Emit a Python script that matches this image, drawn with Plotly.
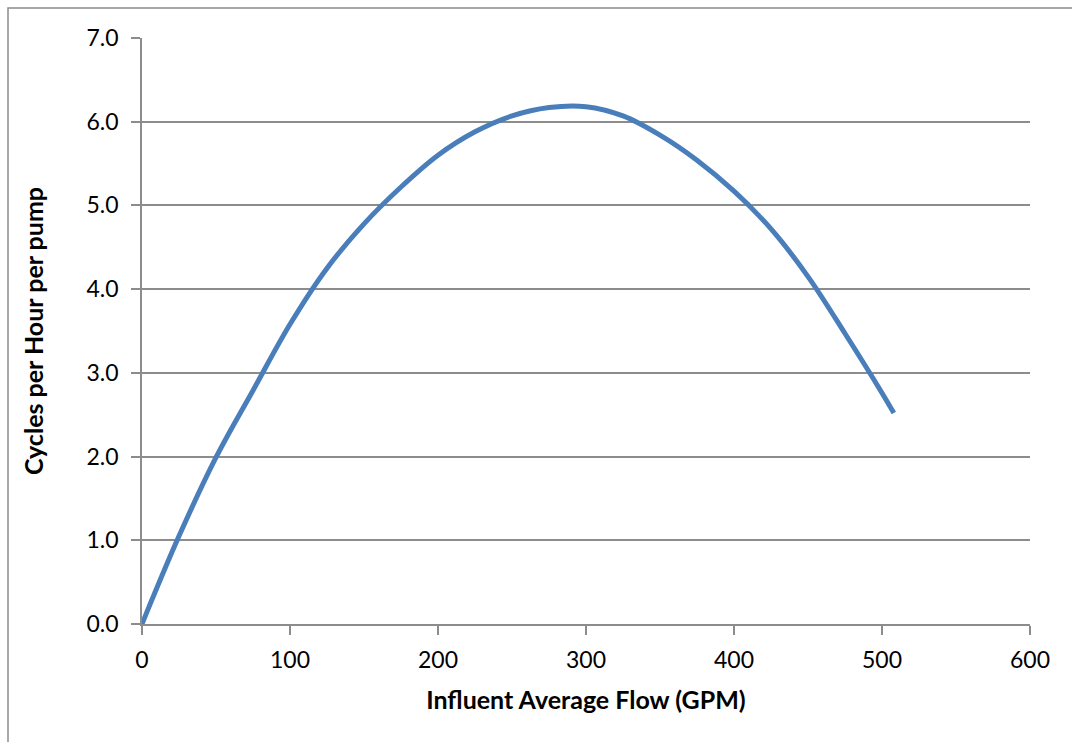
import plotly.graph_objects as go

flow_gpm = [0, 25, 50, 75, 100, 125, 150, 175, 200, 225, 250, 275,
            300, 325, 350, 375, 400, 425, 450, 475, 500, 508]
cycles_per_hour = [0.0, 1.05, 1.99, 2.79, 3.58, 4.25, 4.78, 5.22, 5.60, 5.88, 6.07, 6.17,
                   6.18, 6.07, 5.84, 5.54, 5.17, 4.72, 4.15, 3.47, 2.76, 2.52]
x_ticks = [0, 100, 200, 300, 400, 500, 600]
y_ticks = [0, 1, 2, 3, 4, 5, 6, 7]

GRAY = "#8c8c8c"
FONT = "Lato"
TICK_SIZE = 23
TITLE_SIZE = 25

fig = go.Figure()
fig.add_trace(go.Scatter(
    x=flow_gpm, y=cycles_per_hour, mode="lines",
    line=dict(color="#4A7EBB", width=5, shape="spline", smoothing=1.0),
    showlegend=False, hoverinfo="skip"))

fig.update_layout(
    width=1072, height=742,
    margin=dict(l=142, r=42, t=38, b=118),
    paper_bgcolor="white", plot_bgcolor="white",
    font=dict(family=FONT, color="black", size=TICK_SIZE),
    xaxis=dict(range=[0, 600], tickvals=x_ticks, ticktext=[str(v) for v in x_ticks],
               showgrid=False, zeroline=False, showline=True, linecolor=GRAY, linewidth=1.5,
               ticks="outside", ticklen=9, tickcolor=GRAY, tickwidth=1.5,
               ticklabelstandoff=6,
               tickfont=dict(family=FONT, size=TICK_SIZE),
               title=dict(text="<b>Influent Average Flow (GPM)</b>",
                          font=dict(family=FONT, size=TITLE_SIZE), standoff=19)),
    yaxis=dict(range=[0, 7], tickvals=y_ticks, ticktext=[f"{v:.1f}" for v in y_ticks],
               showgrid=True, gridcolor=GRAY, gridwidth=1.5, zeroline=False,
               showline=True, linecolor=GRAY, linewidth=1.5,
               ticks="outside", ticklen=9, tickcolor=GRAY, tickwidth=1.5,
               ticklabelstandoff=8,
               tickfont=dict(family=FONT, size=TICK_SIZE),
               title=dict(text="<b>Cycles per Hour per pump</b>",
                          font=dict(family=FONT, size=TITLE_SIZE), standoff=36)),
    shapes=[dict(type="rect", xref="paper", yref="paper",
                 x0=(8 - 142) / 888, x1=1.2, y0=-0.5, y1=(742 - 118 - 8) / 586,
                 line=dict(color=GRAY, width=1.5), layer="below")],
)

fig.write_html("out.html")
